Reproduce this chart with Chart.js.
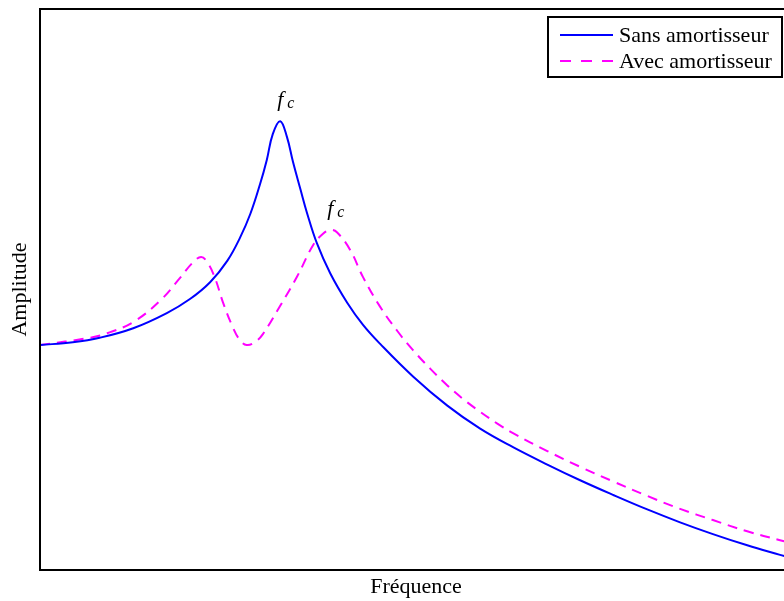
<!DOCTYPE html>
<html><head><meta charset="utf-8">
<script src="https://cdn.jsdelivr.net/npm/chart.js@4/dist/chart.umd.min.js"></script>
<style>html,body{margin:0;padding:0;overflow:hidden;background:#fff;width:784px;height:601px}canvas{display:block}</style>
</head><body>
<canvas id="c" width="800" height="601"></canvas>
<script>
const xLabel = 'Fréquence';
const yLabel = 'Amplitude';
const seriesNames = ['Sans amortisseur', 'Avec amortisseur'];
const peakLabel = 'f';
const peakSub = 'c';

const sansX = [0,0.44,0.80,1.25,1.70,2.01,2.28,2.51,2.68,2.82,2.95,3.04,3.12,3.22,3.31,3.39,3.49,3.58,3.71,3.89,4.12,4.33,4.56,5.00,5.46,5.90,6.34,6.80,7.24,7.68,8.14,8.58,9.02,9.48,9.92,10.08];
const sansY = [4.01,4.06,4.14,4.31,4.58,4.83,5.13,5.51,5.92,6.35,6.88,7.31,7.77,8.00,7.72,7.28,6.79,6.36,5.83,5.29,4.76,4.37,4.03,3.45,2.93,2.52,2.19,1.88,1.60,1.34,1.08,0.85,0.64,0.44,0.27,0.21];

const avecX = [0,0.67,0.90,1.25,1.61,1.88,2.04,2.16,2.25,2.35,2.45,2.59,2.68,2.77,2.88,2.99,3.22,3.45,3.66,3.79,3.89,3.98,4.16,4.33,4.56,4.79,5.00,5.23,5.46,5.67,5.90,6.13,6.34,6.80,7.24,7.68,8.14,8.58,9.02,9.48,9.92,10.08];
const avecY = [4.01,4.14,4.22,4.42,4.80,5.21,5.47,5.58,5.47,5.19,4.78,4.31,4.10,4.01,4.06,4.21,4.71,5.24,5.79,5.99,6.06,6.02,5.70,5.22,4.69,4.26,3.92,3.59,3.29,3.05,2.82,2.61,2.44,2.12,1.84,1.58,1.32,1.09,0.89,0.69,0.53,0.48];

const peakIdx = [13, 20]; // indexes of the resonance peaks in each series

const toPts = (xs, ys) => xs.map((x, i) => ({x, y: ys[i]}));
const serif = '"Liberation Serif", "DejaVu Serif", serif';

const decor = {
  id: 'decor',
  afterDraw(chart) {
    const {ctx, chartArea: a, scales} = chart;
    ctx.save();
    ctx.strokeStyle = '#000';
    ctx.lineWidth = 2;
    ctx.strokeRect(a.left, a.top, a.right - a.left, a.bottom - a.top);
    ctx.fillStyle = '#000';
    ctx.font = '22px ' + serif;
    ctx.textAlign = 'center';
    ctx.textBaseline = 'middle';
    ctx.fillText(xLabel, (a.left + a.right) / 2, 587);
    ctx.save();
    ctx.translate(20, (a.top + a.bottom) / 2);
    ctx.rotate(-Math.PI / 2);
    ctx.fillText(yLabel, 0, 0);
    ctx.restore();
    chart.data.datasets.forEach((ds, di) => {
      const p = ds.data[peakIdx[di]];
      const px = scales.x.getPixelForValue(p.x);
      const py = scales.y.getPixelForValue(p.y);
      ctx.fillStyle = '#000';
      ctx.font = 'italic 22px ' + serif;
      ctx.textAlign = 'left';
      ctx.textBaseline = 'alphabetic';
      ctx.fillText(peakLabel, px - 3, py - 15);
      ctx.font = 'italic 16px ' + serif;
      ctx.fillText(peakSub, px + 7, py - 13);
    });
    const lx0 = 548, ly0 = 17, lw = 234, lh = 60;
    ctx.fillStyle = '#fff';
    ctx.fillRect(lx0, ly0, lw, lh);
    ctx.strokeStyle = '#000';
    ctx.lineWidth = 2;
    ctx.strokeRect(lx0, ly0, lw, lh);
    chart.data.datasets.forEach((ds, i) => {
      const yy = 35 + i * 26;
      ctx.strokeStyle = ds.borderColor;
      ctx.lineWidth = 2;
      ctx.setLineDash(ds.borderDash ? [11, 10] : []);
      ctx.beginPath();
      ctx.moveTo(560, yy);
      ctx.lineTo(613, yy);
      ctx.stroke();
      ctx.setLineDash([]);
      ctx.fillStyle = '#000';
      ctx.font = '22px ' + serif;
      ctx.textAlign = 'left';
      ctx.textBaseline = 'middle';
      ctx.fillText(ds.label, 619, yy + 1);
    });
    ctx.restore();
  }
};

new Chart(document.getElementById('c'), {
  type: 'line',
  data: {
    datasets: [
      {label: seriesNames[0], data: toPts(sansX, sansY), borderColor: '#0000ff', borderWidth: 2, pointRadius: 0, tension: 0.4, fill: false},
      {label: seriesNames[1], data: toPts(avecX, avecY), borderColor: '#ff00ff', borderWidth: 2, borderDash: [10, 7], pointRadius: 0, tension: 0.4, fill: false}
    ]
  },
  options: {
    responsive: false,
    animation: false,
    layout: {padding: {left: 40, top: 9, right: 8, bottom: 31}},
    plugins: {legend: {display: false}, tooltip: {enabled: false}},
    scales: {
      x: {type: 'linear', min: 0, max: 10.08, display: true, ticks: {display: false}, grid: {display: false, drawTicks: false}, border: {display: false}},
      y: {type: 'linear', min: 0, max: 10, display: true, ticks: {display: false}, grid: {display: false, drawTicks: false}, border: {display: false}}
    }
  },
  plugins: [decor]
});
</script>
</body></html>
